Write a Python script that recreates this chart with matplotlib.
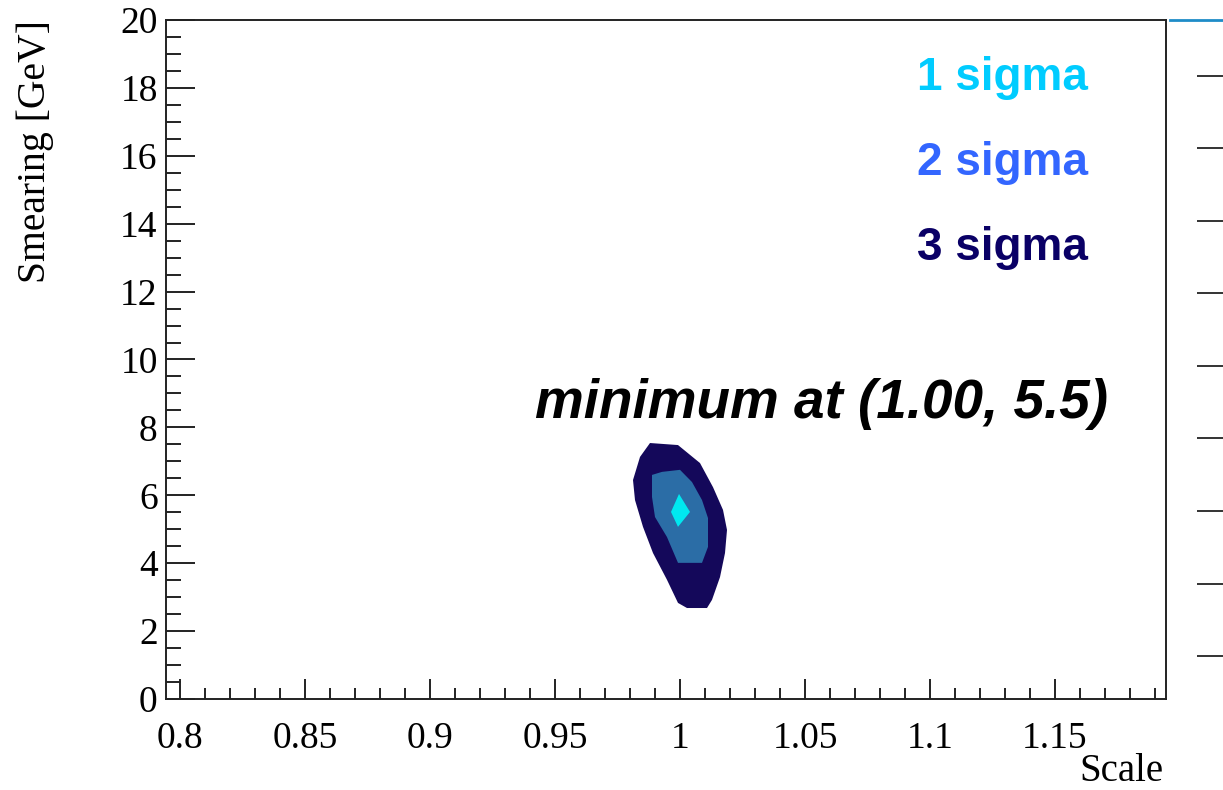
import matplotlib
matplotlib.use("Agg")
import matplotlib.pyplot as plt
from matplotlib.ticker import MultipleLocator

# contour regions (scale, smearing)
sigma3_x = [0.988, 0.9992, 1.008, 1.0132, 1.0172, 1.0188, 1.018, 1.016, 1.0128,
            1.0108, 1.0028, 0.9992, 0.9948, 0.9892, 0.9852, 0.982, 0.9812, 0.984]
sigma3_y = [7.54, 7.48, 6.95, 6.24, 5.57, 4.98, 4.30, 3.59, 2.92,
            2.68, 2.68, 2.83, 3.51, 4.30, 5.07, 5.86, 6.45, 7.13]
sigma2_x = [0.9888, 0.9928, 1.0, 1.0048, 1.0088, 1.0112, 1.0112, 1.0088, 0.9992,
            0.9948, 0.99, 0.9888]
sigma2_y = [6.60, 6.69, 6.75, 6.39, 5.86, 5.33, 4.48, 4.01, 4.01,
            4.77, 5.36, 5.95]
sigma1_x = [0.9996, 1.004, 0.9992, 0.9964]
sigma1_y = [6.04, 5.51, 5.07, 5.51]

labels = ["1 sigma", "2 sigma", "3 sigma"]
label_colors = ["#00CCFF", "#3366FF", "#0A0066"]
fill_colors = ["#00E8F0", "#2B6DA6", "#14085A"]
min_text = "minimum at (1.00, 5.5)"
palette_ticks = [0, 1, 2, 3, 4, 5, 6, 7, 8]

W, H = 1223, 790
fig = plt.figure(figsize=(W / 100, H / 100), dpi=100)
ax = fig.add_axes([166 / W, 91 / H, 1000 / W, 679 / H])

ax.fill(sigma3_x, sigma3_y, color=fill_colors[2], lw=0)
ax.fill(sigma2_x, sigma2_y, color=fill_colors[1], lw=0)
ax.fill(sigma1_x, sigma1_y, color=fill_colors[0], lw=0)

ax.set_xlim(0.7944, 1.1944)
ax.set_ylim(0, 20)
ax.xaxis.set_major_locator(MultipleLocator(0.05))
ax.xaxis.set_minor_locator(MultipleLocator(0.01))
ax.yaxis.set_major_locator(MultipleLocator(2))
ax.yaxis.set_minor_locator(MultipleLocator(0.5))
ax.xaxis.set_major_formatter(plt.FuncFormatter(lambda v, p: f"{v:g}"))

serif = "Liberation Serif"
ax.tick_params(axis="both", which="both", direction="in", width=1.4, color="#222222",
               top=False, right=False)
ax.tick_params(axis="x", which="major", length=14.4, pad=16)
ax.tick_params(axis="x", which="minor", length=8)
ax.tick_params(axis="y", which="major", length=21, pad=6)
ax.tick_params(axis="y", which="minor", length=10.8)
for lab in ax.get_xticklabels() + ax.get_yticklabels():
    lab.set_fontfamily(serif)
    lab.set_fontsize(27)
for sp in ax.spines.values():
    sp.set_linewidth(1.4)
    sp.set_color("#222222")

ax.set_xlabel("Scale", fontfamily=serif, fontsize=28, loc="right")
ax.set_ylabel("Smearing [GeV]", fontfamily=serif, fontsize=28.5, loc="top")
ax.xaxis.set_label_coords(0.997, -0.080)
ax.yaxis.set_label_coords(-0.112, 1.0)

sans = "Liberation Sans"
for i, (txt, col) in enumerate(zip(labels, label_colors)):
    ax.text(0.922, 0.897 - i * 0.1252, txt, transform=ax.transAxes, ha="right",
            va="baseline", fontsize=33, fontweight="bold", fontfamily=sans, color=col)
ax.text(1.0565, 8.28, min_text, ha="center", va="baseline", fontsize=39.5,
        fontweight="bold", fontstyle="italic", fontfamily=sans, color="black")

# palette axis, mostly cut off at the right edge
pal = fig.add_axes([1170 / W, 91 / H, 53 / W, 679 / H])
pal.set_ylim(-0.593, 8.772)
pal.set_xticks([])
pal.set_yticks(palette_ticks)
pal.yaxis.tick_right()
pal.tick_params(axis="y", direction="in", length=18.7, width=1.4, color="#333333",
                labelright=False)
for name, sp in pal.spines.items():
    sp.set_visible(name == "top")
pal.spines["top"].set_color("#1E8CC8")
pal.spines["top"].set_linewidth(2)
pal.patch.set_alpha(0)

fig.savefig("out.png", dpi=100)
